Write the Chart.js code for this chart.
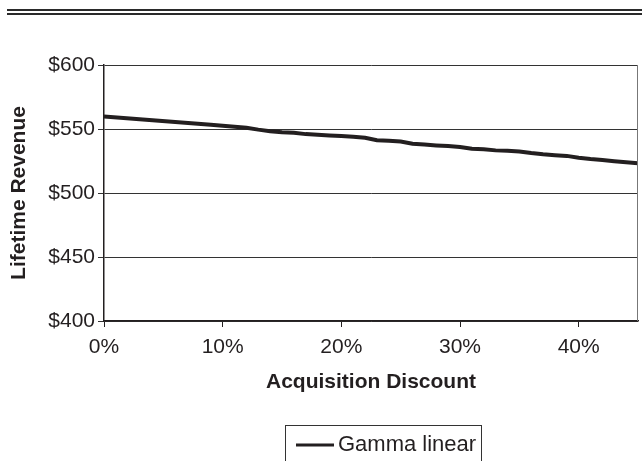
<!DOCTYPE html>
<html>
<head>
<meta charset="utf-8">
<script src="https://cdn.jsdelivr.net/npm/chart.js@4/dist/chart.umd.min.js"></script>
<style>
  html, body { margin: 0; padding: 0; background: #fff; }
  #wrap { width: 642px; height: 461px; position: relative; }
</style>
</head>
<body>
<div id="wrap"><canvas id="c" width="642" height="461"></canvas></div>
<script>
// Acquisition discount (%) and resulting lifetime revenue ($)
const discountPct = [0, 3, 6, 9, 12, 13, 14, 15, 16, 17, 18, 19, 20, 21, 22, 23, 24, 25, 26, 27, 28, 29, 30,
  31, 32, 33, 34, 35, 36, 37, 38, 39, 40, 41, 42, 43, 44, 45];
const lifetimeRevenue = [559.7, 557.6, 555.5, 553.4, 551.0, 549.5, 548.3, 547.5, 547.0, 546.0, 545.5, 545.0, 544.5,
  544.0, 543.2, 541.2, 540.8, 540.2, 538.5, 537.8, 537.2, 536.8, 536.0,
  534.5, 534.2, 533.3, 533.0, 532.5, 531.2, 530.2, 529.5, 529.0, 527.5, 526.5, 525.8, 524.8, 524.0, 523.3];
const xTickValues = [0, 10, 20, 30, 40];
const yTickValues = [400, 450, 500, 550, 600];
const seriesLabel = 'Gamma linear';
const xTitle = 'Acquisition Discount';
const yTitle = 'Lifetime Revenue';

const INK = '#231f20';
const FONT = '"Liberation Sans", Arial, Helvetica, sans-serif';
const FS = 21;

// Page furniture: double rule at the top, right frame edge and the boxed legend
const decor = {
  id: 'decor',
  beforeDraw(chart) {
    const ctx = chart.ctx;
    ctx.save();
    ctx.fillStyle = '#fff';
    ctx.fillRect(0, 0, chart.width, chart.height);
    ctx.fillStyle = '#2a2a2a';
    ctx.fillRect(7, 9, 635, 2);
    ctx.fillRect(7, 13, 635, 2);
    ctx.restore();
  },
  afterDraw(chart) {
    const ctx = chart.ctx;
    const a = chart.chartArea;
    ctx.save();
    // right edge of the plot frame
    ctx.strokeStyle = '#777';
    ctx.lineWidth = 1;
    ctx.beginPath();
    ctx.moveTo(Math.round(a.right) - 0.5, a.top);
    ctx.lineTo(Math.round(a.right) - 0.5, a.bottom);
    ctx.stroke();

    // legend box
    const ds = chart.data.datasets[0];
    const bx = 285.5, by = 425.5, bw = 196, bh = 60;
    ctx.strokeStyle = '#333';
    ctx.lineWidth = 1;
    ctx.strokeRect(bx, by, bw, bh);
    ctx.strokeStyle = ds.borderColor;
    ctx.lineWidth = 3;
    ctx.beginPath();
    ctx.moveTo(296, 445);
    ctx.lineTo(334, 445);
    ctx.stroke();
    ctx.fillStyle = INK;
    ctx.font = '22px ' + FONT;
    ctx.textBaseline = 'middle';
    ctx.textAlign = 'left';
    ctx.fillText(ds.label, 338, 445);
    ctx.restore();
  }
};

new Chart(document.getElementById('c'), {
  type: 'scatter',
  data: {
    datasets: [{
      label: seriesLabel,
      data: discountPct.map((x, i) => ({ x: x, y: lifetimeRevenue[i] })),
      showLine: true,
      borderColor: INK,
      backgroundColor: INK,
      borderWidth: 4,
      pointRadius: 0,
      tension: 0
    }]
  },
  options: {
    responsive: false,
    animation: false,
    devicePixelRatio: 1,
    layout: { padding: { top: 65, right: 4, bottom: 0, left: 0 } },
    plugins: { legend: { display: false }, tooltip: { enabled: false } },
    scales: {
      x: {
        type: 'linear',
        min: 0,
        max: 45,
        afterBuildTicks(s) { s.ticks = xTickValues.map(v => ({ value: v })); },
        afterFit(s) { s.height = 140; },
        ticks: {
          callback: v => v + '%',
          color: INK,
          font: { family: FONT, size: FS },
          padding: 8,
          maxRotation: 0
        },
        grid: { drawOnChartArea: false, tickLength: 6, color: INK, lineWidth: 1 },
        border: { color: INK, width: 1.5 },
        title: {
          display: true,
          text: xTitle,
          color: INK,
          font: { family: FONT, size: FS, weight: 'bold' },
          padding: { top: 0, bottom: 66 }
        }
      },
      y: {
        type: 'linear',
        min: 400,
        max: 600,
        afterBuildTicks(s) { s.ticks = yTickValues.map(v => ({ value: v })); },
        afterFit(s) { s.width = 104; },
        ticks: {
          callback: v => '$' + v,
          color: INK,
          font: { family: FONT, size: FS },
          padding: 3
        },
        grid: { color: '#333', lineWidth: 1, tickLength: 6 },
        border: { color: INK, width: 1.5 },
        title: {
          display: true,
          text: yTitle,
          color: INK,
          font: { family: FONT, size: FS, weight: 'bold' },
          padding: { top: 7, bottom: 0 }
        }
      }
    }
  },
  plugins: [decor]
});
</script>
</body>
</html>
